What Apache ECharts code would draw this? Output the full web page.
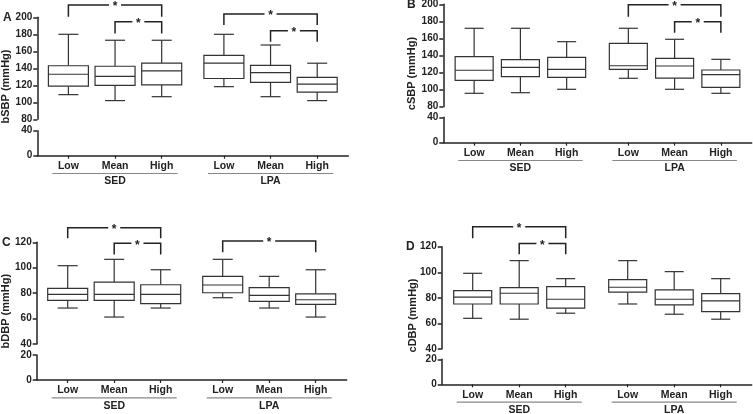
<!DOCTYPE html>
<html><head><meta charset="utf-8">
<script src="https://cdn.jsdelivr.net/npm/echarts@6/dist/echarts.min.js"></script>
<style>html,body{margin:0;padding:0;background:#fff}#c{width:753px;height:414px}</style>
</head><body><div id="c"></div>
<script>
// ---- data ----
const categories = ['Low', 'Mean', 'High'];
const groups = ['SED', 'LPA'];
// each row: [min, Q1, median, Q3, max]; order SED Low, Mean, High, LPA Low, Mean, High
const bSBP = [[109,119,133,143,180],[102,120,130.6,142.4,173],[106.6,120.4,137,146,173],[118.4,128,146,155.3,180],[106.6,123.5,134.8,143.5,167.4],[102,112,121.5,129.4,146]];
const cSBP = [[95.7,110.9,122.7,138.6,171.9],[96.4,115.2,126.2,135.1,171.9],[100.4,114.4,123.8,137.9,156.2],[113.3,123.8,128,154.3,171.9],[100.4,113.6,127.7,136.7,159],[95.7,102.7,117.5,123,135.5]];
const bDBP = [[68.3,74.3,79,83.8,101.6],[61.2,74.3,79,88.7,106.6],[68.3,71.7,79,86.6,98.4],[76.4,80.3,86.4,93.2,106.6],[68.3,73.5,78.3,84.3,93.2],[61.2,71.2,74.8,79.5,98.4]];
const cDBP = [[64,75.2,80.5,85.6,99.2],[63.3,75.2,83.6,88,109.1],[68,71.9,78.9,88.8,95],[75.2,84.4,88.3,94.2,109.1],[67.2,74.5,78.9,86.2,100.5],[63.3,69.2,77.6,83.3,95]];
// significance brackets: [fromBox, toBox, bracketLevel, legBottom]
const bSBPsig = [[0,2,214.5,200.7],[1,2,194.8,181],[3,5,203.9,191],[4,5,184.2,171.3]];
const cSBPsig = [[3,5,199.6,185.5],[4,5,179.6,166.7]];
const bDBPsig = [[0,2,131.5,123.1],[1,2,119.2,110.5],[3,5,121,112.1]];
const cDBPsig = [[0,2,135.6,126.6],[1,2,122.6,114]];
// axis ranges [min, max, interval]
const sbpUpper = [80, 200, 20], sbpLower = [0, 40, 40];
const dbpUpper = [40, 120, 20], dbpLower = [0, 20, 20];

// ---- layout ----
const FONT = '"Liberation Sans", Arial, sans-serif';
const INK = '#222';
const panels = [
  {letter:'A', title:'bSBP (mmHg)', data:bSBP, sig:bSBPsig, up:sbpUpper, low:sbpLower,
   left:37.3, width:311, upTop:17.3, upH:102, lowTop:130.7, lowH:25, letterX:3, titleX:6, boxW:40},
  {letter:'B', title:'cSBP (mmHg)', data:cSBP, sig:cSBPsig, up:sbpUpper, low:sbpLower,
   left:443.3, width:308.4, upTop:4.3, upH:102.4, lowTop:117.3, lowH:25.4, letterX:407, titleX:412, boxW:38},
  {letter:'C', title:'bDBP (mmHg)', data:bDBP, sig:bDBPsig, up:dbpUpper, low:dbpLower,
   left:36.7, width:310, upTop:242.3, upH:101.7, lowTop:355, lowH:25, letterX:2, titleX:6, boxW:40},
  {letter:'D', title:'cDBP (mmHg)', data:cDBP, sig:cDBPsig, up:dbpUpper, low:dbpLower,
   left:441.7, width:310, upTop:246.7, upH:102.3, lowTop:359.3, lowH:25, letterX:406, titleX:413, boxW:38}
];
const pos = i => 2 + (i % 3) * 3 + Math.floor(i / 3) * 10;
const positions = [0,1,2,3,4,5].map(pos);

const lineStyle = {color: INK, width: 1.5};
const grid = [], xAxis = [], yAxis = [], series = [], graphic = [];

function boxRender(boxW) {
  return function (params, api) {
    const x = api.value(0);
    const p = [1,2,3,4,5].map(d => api.coord([x, api.value(d)]));
    const cx = p[0][0];
    const yMin = p[0][1], yQ1 = p[1][1], yMed = p[2][1], yQ3 = p[3][1], yMax = p[4][1];
    const hw = boxW / 2, cw = boxW / 4;
    const st = {stroke: '#333', lineWidth: 1.2, fill: null};
    return {type: 'group', children: [
      {type:'line', shape:{x1:cx, y1:yMax, x2:cx, y2:yQ3}, style:st},
      {type:'line', shape:{x1:cx, y1:yQ1, x2:cx, y2:yMin}, style:st},
      {type:'line', shape:{x1:cx-cw, y1:yMax, x2:cx+cw, y2:yMax}, style:st},
      {type:'line', shape:{x1:cx-cw, y1:yMin, x2:cx+cw, y2:yMin}, style:st},
      {type:'rect', shape:{x:cx-hw, y:yQ3, width:boxW, height:yQ1-yQ3}, style:{stroke:'#333', lineWidth:1.2, fill:'#fff'}},
      {type:'line', shape:{x1:cx-hw, y1:yMed, x2:cx+hw, y2:yMed}, style:st}
    ]};
  };
}
function sigRender(params, api) {
  const a = api.coord([api.value(0), api.value(2)]);
  const b = api.coord([api.value(1), api.value(2)]);
  const legY = api.coord([api.value(0), api.value(3)])[1];
  const mid = (a[0] + b[0]) / 2, gap = 6;
  const st = {stroke: INK, lineWidth: 1.5, fill: null};
  return {type: 'group', children: [
    {type:'polyline', shape:{points:[[a[0], legY],[a[0], a[1]],[mid-gap, a[1]]]}, style:st},
    {type:'polyline', shape:{points:[[mid+gap, a[1]],[b[0], a[1]],[b[0], legY]]}, style:st},
    {type:'text', x: mid, y: a[1] - 4, style:{text:'*', font:'bold 12px ' + FONT, fill: INK, align:'center', verticalAlign:'top'}}
  ]};
}
function groupRender(params, api) {
  const a = api.coord([api.value(0), 0]);
  const b = api.coord([api.value(1), 0]);
  const y = a[1] + 17.8;
  const mid = (a[0] + b[0]) / 2;
  return {type: 'group', children: [
    {type:'line', shape:{x1:a[0]-16, y1:y, x2:b[0]+16, y2:y}, style:{stroke:'#888', lineWidth:1.2}},
    {type:'text', x: mid, y: y + 8, style:{text: groups[params.dataIndex], font:'bold 10.5px ' + FONT, fill: INK, align:'center', verticalAlign:'middle'}}
  ]};
}

panels.forEach((P, k) => {
  const gu = grid.length, gl = gu + 1;
  grid.push({left:P.left, top:P.upTop, width:P.width, height:P.upH, outerBoundsMode:'none'});
  grid.push({left:P.left, top:P.lowTop, width:P.width, height:P.lowH, outerBoundsMode:'none'});
  xAxis.push({type:'value', gridIndex:gu, min:0, max:20, show:false});
  xAxis.push({type:'value', gridIndex:gl, min:0, max:20,
    axisLine:{show:true, lineStyle},
    axisTick:{show:true, customValues:positions, length:3, lineStyle:{color:INK, width:1.2}},
    axisLabel:{show:true, customValues:positions, margin:5,
      formatter: v => categories[positions.indexOf(v) % 3],
      fontSize:10.5, fontWeight:'bold', color:INK, fontFamily:FONT},
    splitLine:{show:false}});
  [[gu, P.up], [gl, P.low]].forEach(([g, r]) => {
    yAxis.push({type:'value', gridIndex:g, min:r[0], max:r[1], interval:r[2],
      axisLine:{show:true, lineStyle},
      axisTick:{show:true, length:4, lineStyle:{color:INK, width:1.5}},
      axisLabel:{margin:5, fontSize:10, fontWeight:'bold', color:INK, fontFamily:FONT},
      splitLine:{show:false}});
  });
  series.push({type:'custom', xAxisIndex:gu, yAxisIndex:gu, silent:true, clip:false,
    renderItem: boxRender(P.boxW),
    data: P.data.map((d, i) => [pos(i)].concat(d))});
  series.push({type:'custom', xAxisIndex:gu, yAxisIndex:gu, silent:true, clip:false,
    renderItem: sigRender,
    data: P.sig.map(s => [pos(s[0]), pos(s[1]), s[2], s[3]])});
  series.push({type:'custom', xAxisIndex:gl, yAxisIndex:gl, silent:true, clip:false,
    renderItem: groupRender,
    data: groups.map((g, j) => [pos(j * 3), pos(j * 3 + 2)])});
  const top = P.upTop, bottom = P.lowTop + P.lowH;
  graphic.push({type:'text', x:P.letterX, y:top, silent:true,
    style:{text:P.letter, font:'bold 12px ' + FONT, fill:INK, align:'left', verticalAlign:'middle'}});
  graphic.push({type:'text', x:P.titleX, y:(top + bottom) / 2, rotation:Math.PI / 2, silent:true,
    style:{text:P.title, font:'bold 11px ' + FONT, fill:INK, align:'center', verticalAlign:'middle'}});
});

const chart = echarts.init(document.getElementById('c'), null, {renderer:'canvas'});
chart.setOption({animation:false, backgroundColor:'#fff', grid, xAxis, yAxis, series, graphic});
</script></body></html>
